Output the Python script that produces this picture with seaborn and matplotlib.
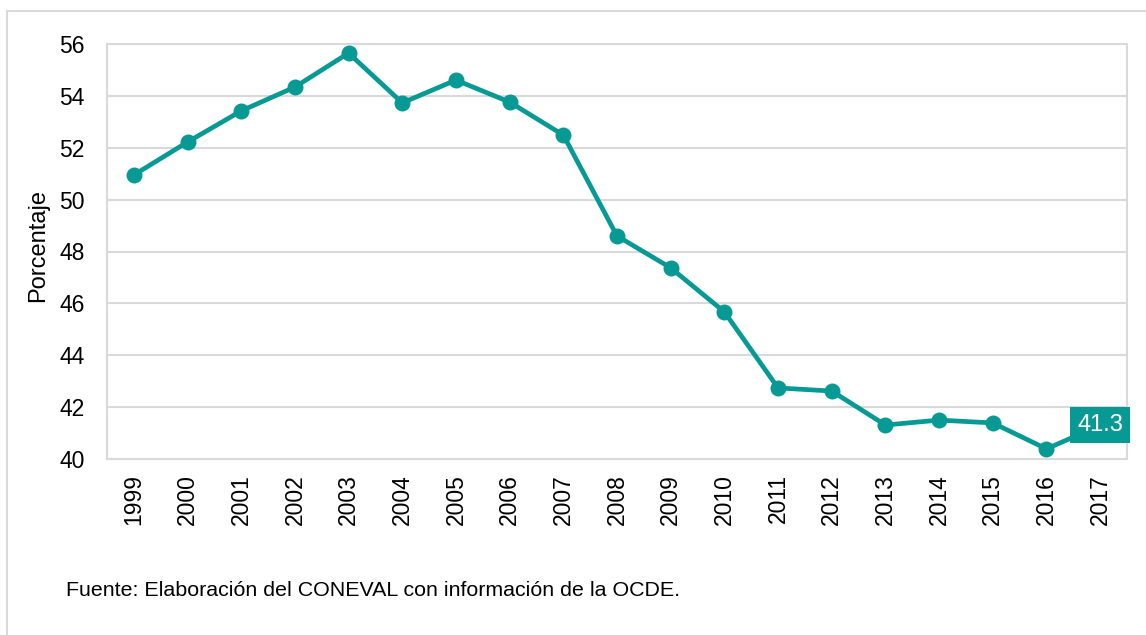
import matplotlib
matplotlib.use("Agg")
import matplotlib.pyplot as plt
import seaborn as sns
import pandas as pd
from matplotlib.patches import Rectangle

years = ["1999", "2000", "2001", "2002", "2003", "2004", "2005", "2006", "2007", "2008",
         "2009", "2010", "2011", "2012", "2013", "2014", "2015", "2016", "2017"]
values = [50.95, 52.22, 53.42, 54.34, 55.65, 53.73, 54.61, 53.76, 52.49, 48.6,
          47.37, 45.67, 42.74, 42.62, 41.31, 41.5, 41.39, 40.39, 41.3]
yticks = [40, 42, 44, 46, 48, 50, 52, 54, 56]

teal = "#079A94"
grid = "#D9D9D9"

sns.set_theme(style="white")
plt.rcParams["font.family"] = ["Liberation Sans", "DejaVu Sans"]
plt.rcParams["text.color"] = "black"
plt.rcParams["axes.labelcolor"] = "black"
plt.rcParams["xtick.color"] = "black"
plt.rcParams["ytick.color"] = "black"

df = pd.DataFrame({"year": years, "value": values})

fig = plt.figure(figsize=(11.46, 6.35), dpi=100)
ax = fig.add_axes([107/1146, 1-459/635, (1127-107)/1146, (459-44)/635])

sns.lineplot(data=df, x="year", y="value", ax=ax, color=teal, linewidth=3.4,
             marker="o", markersize=11.5, markeredgewidth=0, sort=False)

ax.set_xlim(-0.5, len(years)-0.5)
ax.set_ylim(40, 56)
ax.set_yticks(yticks)
ax.set_yticklabels([str(t) for t in yticks], fontsize=16.5)
ax.set_xticks(range(len(years)))
ax.set_xticklabels(years, rotation=90, fontsize=16.5)
ax.tick_params(axis="y", length=0, pad=16)
ax.tick_params(axis="x", length=0, pad=11)
ax.yaxis.grid(True, color=grid, linewidth=1.5)
ax.set_axisbelow(True)
for s in ax.spines.values():
    s.set_color(grid)
    s.set_linewidth(1.5)
ax.set_xlabel("")
ax.set_ylabel("Porcentaje", fontsize=17)
ax.yaxis.set_label_coords(-(107-49)/1020, (459-246)/415)

ax.annotate(f"{values[-1]:.1f}", xy=(len(years)-1, values[-1]), ha="center", va="center",
            fontsize=17, color="white",
            bbox=dict(boxstyle="square,pad=0.3", fc=teal, ec="none"))

fig.patches.append(Rectangle((7/1146, -0.01), 1.02, 1-11/635+0.01, transform=fig.transFigure,
                             fill=False, ec=grid, lw=1.5, zorder=-1))

fig.text(66/1146, 1-590/635, "Fuente: Elaboración del CONEVAL con información de la OCDE.",
         fontsize=15.4, va="center", ha="left")

fig.savefig("out.png", dpi=100)
